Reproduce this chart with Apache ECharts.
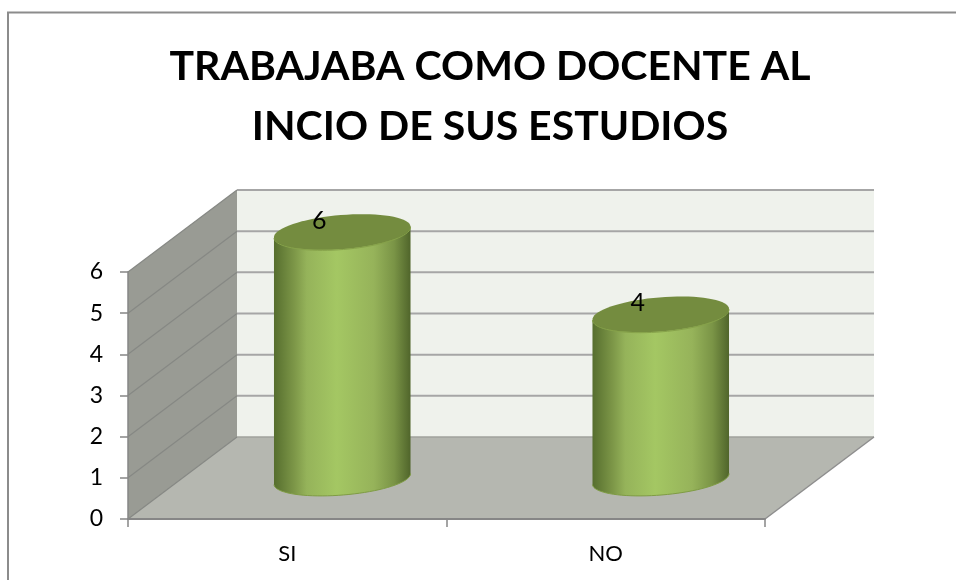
<!DOCTYPE html>
<html>
<head>
<meta charset="utf-8">
<style>html,body{margin:0;padding:0;background:#fff}#c{width:956px;height:580px}</style>
<script src="https://cdn.jsdelivr.net/npm/echarts@6/dist/echarts.min.js"></script>
</head>
<body>
<div id="c"></div>
<script>
var titleText = 'TRABAJABA COMO DOCENTE AL\nINCIO DE SUS ESTUDIOS';
var categories = ['SI', 'NO'];
var values = [6, 4];
var yTicks = [0, 1, 2, 3, 4, 5, 6];

var DEPTH_X = 109, DEPTH_Y = 82;
var CYL_RX = 68.5, TILT = 0.082;
var TOP_RY = 17, BOTTOM_RY = 16;
var FONT = 'Lato, "Open Sans", sans-serif';

var chart = echarts.init(document.getElementById('c'), null, {renderer: 'canvas'});

function bodyGradient() {
  return new echarts.graphic.LinearGradient(0, 0, 1, 0, [
    {offset: 0, color: '#566e2e'},
    {offset: 0.15, color: '#7d9748'},
    {offset: 0.24, color: '#95b35a'},
    {offset: 0.46, color: '#a4c763'},
    {offset: 0.73, color: '#96b35a'},
    {offset: 0.88, color: '#7a9446'},
    {offset: 1, color: '#50652b'}
  ]);
}

function renderWalls(params, api) {
  var o = api.coord([0, 0]);
  var size = api.size([1, 1]);
  var catW = size[0];
  var x0 = o[0] - catW / 2;
  var x1 = x0 + catW * categories.length;
  var yB = o[1];
  var yT = api.coord([0, yTicks[yTicks.length - 1]])[1];
  var line = {stroke: '#a6a6a6', lineWidth: 2};
  var children = [
    {type: 'polygon', shape: {points: [[x0, yB], [x0 + DEPTH_X, yB - DEPTH_Y], [x1 + DEPTH_X, yB - DEPTH_Y], [x1, yB]]},
      style: {fill: '#b5b7b0'}},
    {type: 'polygon', shape: {points: [[x0, yB], [x0, yT], [x0 + DEPTH_X, yT - DEPTH_Y], [x0 + DEPTH_X, yB - DEPTH_Y]]},
      style: {fill: '#999b94'}},
    {type: 'polygon', shape: {points: [[x0 + DEPTH_X, yT - DEPTH_Y], [x1 + DEPTH_X, yT - DEPTH_Y], [x1 + DEPTH_X, yB - DEPTH_Y], [x0 + DEPTH_X, yB - DEPTH_Y]]},
      style: {fill: '#eff2ec'}}
  ];
  yTicks.forEach(function (t) {
    var y = api.coord([0, t])[1];
    children.push({type: 'line', shape: {x1: x0, y1: y, x2: x0 + DEPTH_X, y2: y - DEPTH_Y}, style: {stroke: '#868884', lineWidth: 1.2}});
    children.push({type: 'line', shape: {x1: x0 + DEPTH_X, y1: y - DEPTH_Y, x2: x1 + DEPTH_X, y2: y - DEPTH_Y}, style: t > 0 ? line : {stroke: '#a0a29c', lineWidth: 1.5}});
    if (t === 0) {
      children.push({type: 'line', shape: {x1: x1, y1: y, x2: x1 + DEPTH_X, y2: y - DEPTH_Y}, style: {stroke: '#8e8e8e', lineWidth: 1.5}});
    }
  });
  return {type: 'group', children: children};
}

function renderCylinder(params, api) {
  var base = api.coord([api.value(0), 0]);
  var top = api.coord([api.value(0), api.value(1)]);
  var cx = base[0] + DEPTH_X / 2 + 0.5;
  var cyB = base[1] - DEPTH_Y / 2 + 1;
  var cyT = top[1] - DEPTH_Y / 2 + 1;
  var cos = Math.cos(TILT), sin = Math.sin(TILT);
  function pt(cy, ry, a) {
    var ex = CYL_RX * Math.cos(a), ey = ry * Math.sin(a);
    return [cx + ex * cos + ey * sin, cy - ex * sin + ey * cos];
  }
  var pts = [pt(cyT, TOP_RY, Math.PI), pt(cyT, TOP_RY, 0)];
  for (var i = 0; i <= 40; i++) {
    pts.push(pt(cyB, BOTTOM_RY, Math.PI * i / 40));
  }
  var rim = [];
  for (var j = 0; j <= 40; j++) { rim.push(pt(cyB, BOTTOM_RY, Math.PI * j / 40)); }
  var topPts = [], topShine = [];
  for (var k = 0; k < 72; k++) {
    topPts.push(pt(cyT, TOP_RY, Math.PI * 2 * k / 72));
  }
  for (var m = 0; m <= 40; m++) {
    topShine.push(pt(cyT + 0.5, TOP_RY, Math.PI * m / 40));
  }
  return {
    type: 'group',
    children: [
      {type: 'polygon', shape: {points: pts}, style: {fill: bodyGradient()}},
      {type: 'polyline', shape: {points: rim}, style: {fill: null, stroke: '#7f9c44', lineWidth: 1}},
      {type: 'polygon', shape: {points: topPts}, style: {fill: '#748c3f'}},
      {type: 'polyline', shape: {points: topShine}, style: {fill: null, stroke: '#86a24a', lineWidth: 1}},
      {type: 'text', x: cx - 23, y: cyT - 11,
        style: {text: String(api.value(1)), fill: '#000', font: '25px ' + FONT, textAlign: 'center', textVerticalAlign: 'middle'}}
    ]
  };
}

chart.setOption({
  animation: false,
  backgroundColor: '#fff',
  title: {
    text: titleText,
    left: 485, top: 32,
    textAlign: 'center',
    textStyle: {fontFamily: FONT, fontWeight: 'bold', fontSize: 41, lineHeight: 60, color: '#000'}
  },
  graphic: [{
    type: 'rect', shape: {x: 8, y: 12.5, width: 1000, height: 700},
    style: {fill: null, stroke: '#8c8c8c', lineWidth: 2}, silent: true, z: -10
  }],
  grid: {left: 128, right: 191, top: 272, bottom: 61},
  xAxis: {
    type: 'category',
    data: categories,
    axisLine: {lineStyle: {color: '#868686', width: 2}},
    axisTick: {show: true, alignWithLabel: false, length: 8, lineStyle: {color: '#868686', width: 1.5}},
    axisLabel: {color: '#000', fontFamily: FONT, fontSize: 22, margin: 24},
    splitLine: {show: false}
  },
  yAxis: {
    type: 'value',
    min: 0, max: 6, interval: 1,
    axisLine: {show: true, lineStyle: {color: '#868686', width: 1.5}},
    axisTick: {show: true, length: 8, lineStyle: {color: '#868686', width: 1.5}},
    axisLabel: {color: '#000', fontFamily: FONT, fontSize: 23, margin: 25, padding: [6, 0, 0, 0]},
    splitLine: {show: false}
  },
  series: [
    {type: 'custom', name: 'walls', z: -1, silent: true, renderItem: renderWalls, data: [[0, 0]], clip: false},
    {type: 'custom', name: 'valores', z: 5, renderItem: renderCylinder,
      data: categories.map(function (c, i) { return [i, values[i]]; }),
      encode: {x: 0, y: 1}, clip: false}
  ]
});
</script>
</body>
</html>
